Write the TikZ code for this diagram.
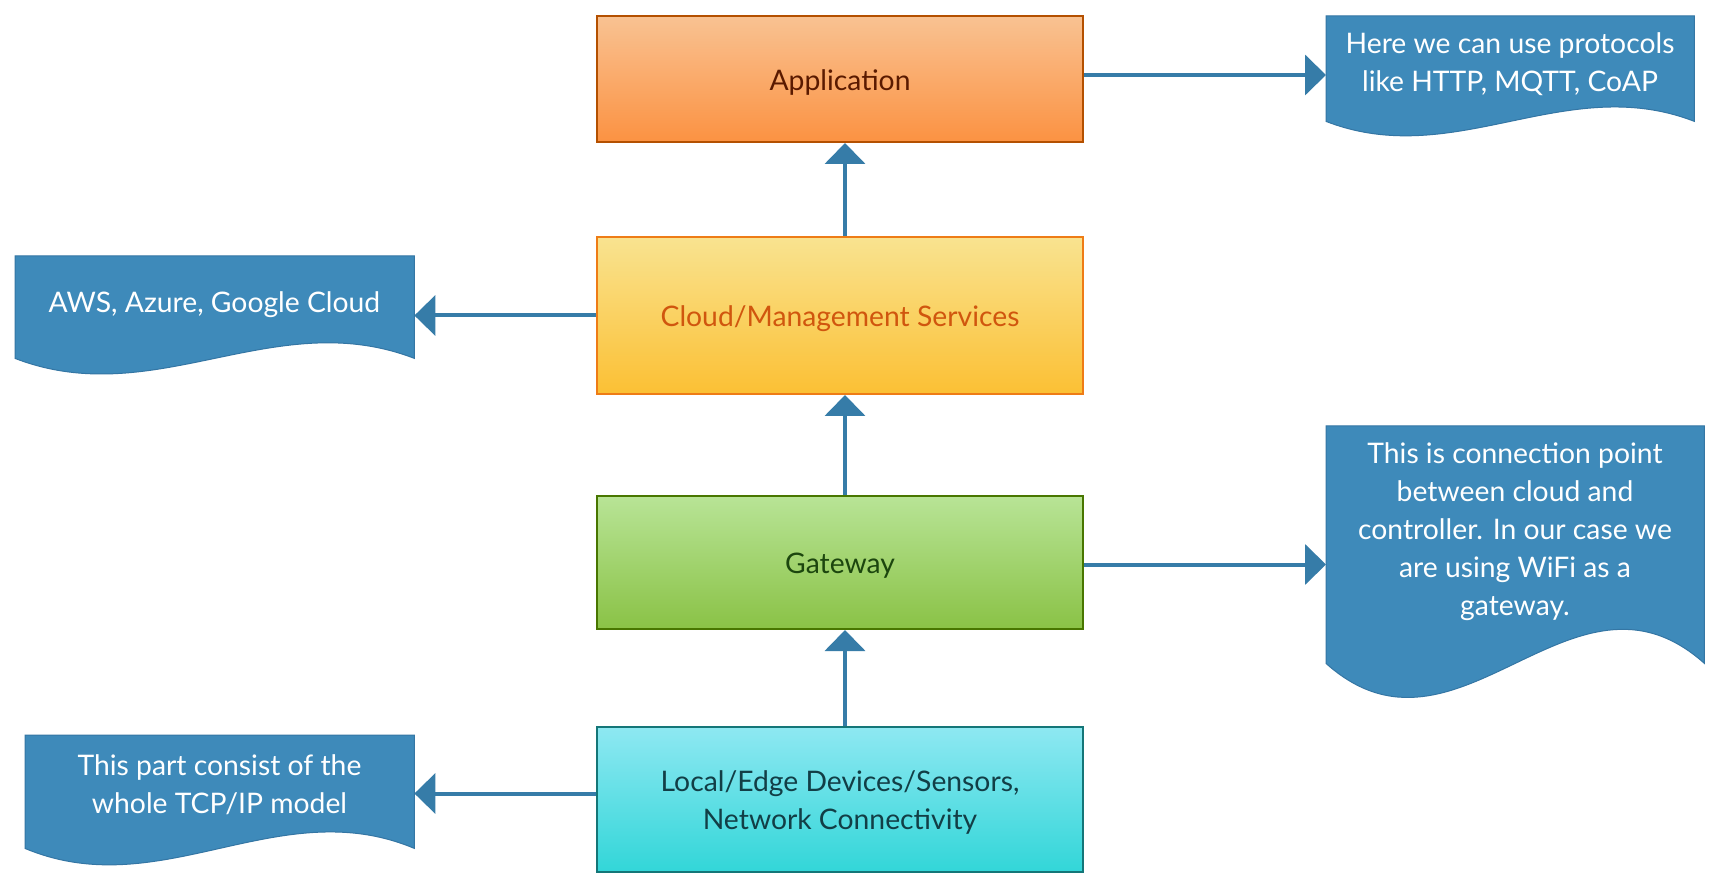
\documentclass[tikz,border=0pt]{standalone}
\usepackage{fontspec}
\setmainfont{Lato}
\usetikzlibrary{arrows.meta}
\definecolor{docblue}{RGB}{62,138,186}
\definecolor{docedge}{RGB}{52,118,164}
\definecolor{arrowblue}{RGB}{54,124,168}
\definecolor{appTop}{RGB}{249,194,146}
\definecolor{appBot}{RGB}{251,146,66}
\definecolor{appEdge}{RGB}{180,80,0}
\definecolor{appText}{RGB}{90,26,0}
\definecolor{cloudTop}{RGB}{249,227,144}
\definecolor{cloudBot}{RGB}{251,192,52}
\definecolor{cloudEdge}{RGB}{238,124,22}
\definecolor{cloudText}{RGB}{208,86,14}
\definecolor{gwTop}{RGB}{184,228,150}
\definecolor{gwBot}{RGB}{138,194,70}
\definecolor{gwEdge}{RGB}{72,118,0}
\definecolor{gwText}{RGB}{28,70,14}
\definecolor{locTop}{RGB}{142,232,242}
\definecolor{locBot}{RGB}{50,214,216}
\definecolor{locEdge}{RGB}{20,118,120}
\definecolor{locText}{RGB}{18,62,70}
\newcommand{\lowertext}[1]{\raisebox{0pt}[\dimexpr\height+7pt\relax][\depth]{\begin{tabular}{@{}c@{}}#1\end{tabular}}}
\tikzset{
  layer/.style={draw, line width=2pt, minimum width=486pt, inner sep=0pt, align=center,
    font=\fontsize{28.3}{38}\selectfont},
  docarea/.style={draw=none, inner sep=0pt, anchor=north west},
  doctext/.style={inner sep=0pt, align=center, text=white, font=\fontsize{28.3}{38}\selectfont},
  docshape/.style={fill=docblue, draw=docedge, line width=1pt},
  conn/.style={draw=arrowblue, line width=4pt, -{Triangle[length=21pt,width=40pt]}},
}
\begin{document}
\begin{tikzpicture}[x=1pt,y=-1pt]
\useasboundingbox[fill=white] (0,0) rectangle (1719,890);

% layers
\node[layer, minimum height=126pt, top color=appTop, bottom color=appBot, draw=appEdge, text=appText] (app) at (840,79) {\lowertext{Application}};
\node[layer, minimum height=157pt, top color=cloudTop, bottom color=cloudBot, draw=cloudEdge, text=cloudText] (cloud) at (840,315.5) {\lowertext{Cloud/Management Services}};
\node[layer, minimum height=133pt, top color=gwTop, bottom color=gwBot, draw=gwEdge, text=gwText] (gw) at (840,562.5) {\lowertext{Gateway}};
\node[layer, minimum height=145pt, top color=locTop, bottom color=locBot, draw=locEdge, text=locText] (loc) at (840,799.5) {\lowertext{Local/Edge Devices/Sensors,\\Network Connectivity}};

% document areas
\node[docarea, minimum width=368pt, minimum height=105pt] (d1) at (1326,16) {};
\node[docarea, minimum width=399pt, minimum height=102pt] (d2) at (15,256) {};
\node[docarea, minimum width=378pt, minimum height=237pt] (d3) at (1326,426) {};
\node[docarea, minimum width=389pt, minimum height=113pt] (d4) at (25,735) {};

% document shapes
\path[docshape] (d1.north west) -- (d1.north east) -- (d1.south east)
  .. controls +(-129,-50) and +(129,50) .. (d1.south west) -- cycle;
\path[docshape] (d2.north west) -- (d2.north east) -- (d2.south east)
  .. controls +(-140,-54) and +(140,54) .. (d2.south west) -- cycle;
\path[docshape] (d3.north west) -- (d3.north east) -- (d3.south east)
  .. controls +(-132,-118) and +(132,118) .. (d3.south west) -- cycle;
\path[docshape] (d4.north west) -- (d4.north east) -- (d4.south east)
  .. controls +(-136,-57) and +(136,57) .. (d4.south west) -- cycle;

% document texts
\node[doctext] (t1) at (1510,64.5) {Here we can use protocols\\like HTTP, MQTT, CoAP};
\node[doctext] (t2) at (214.5,305) {AWS, Azure, Google Cloud};
\node[doctext] (t3) at (1515,532) {This is connection point\\between cloud and\\controller. In our case we\\are using WiFi as a\\gateway.};
\node[doctext] (t4) at (219.5,785) {This part consist of the\\whole TCP/IP model};

% connectors
\draw[conn] ([xshift=5pt]cloud.north) -- ([xshift=5pt]app.south);
\draw[conn] ([xshift=5pt]gw.north) -- ([xshift=5pt]cloud.south);
\draw[conn] ([xshift=5pt]loc.north) -- ([xshift=5pt]gw.south);
\draw[conn] ([yshift=4pt]app.east) -- ([yshift=4pt]app.east -| d1.west);
\draw[conn] (cloud.west) -- (cloud.west -| d2.east);
\draw[conn] ([yshift=-2pt]gw.east) -- ([yshift=-2pt]gw.east -| d3.west);
\draw[conn] ([yshift=6pt]loc.west) -- ([yshift=6pt]loc.west -| d4.east);
\end{tikzpicture}
\end{document}
